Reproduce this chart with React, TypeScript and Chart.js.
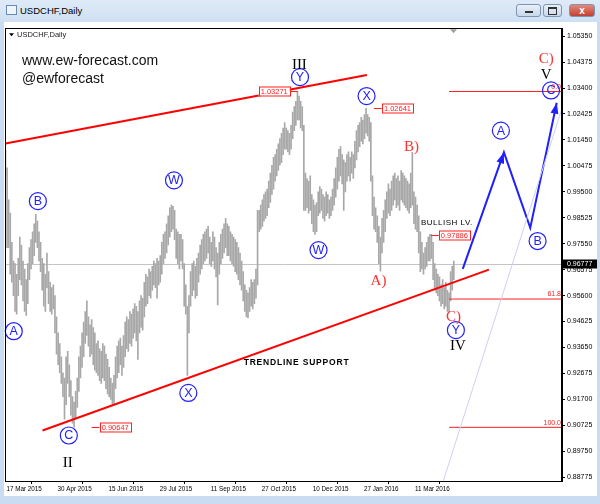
import React, { useEffect, useRef } from 'react';
import { Chart, registerables } from 'chart.js';

Chart.register(...registerables);

// ---------- DATA ----------
const highs = [
  1.0105, 1.0040, 0.9920, 0.9870, 0.9760, 0.9690, 0.9680, 0.9640, 0.9700, 0.9780,
  0.9750, 0.9690, 0.9660, 0.9620, 0.9680, 0.9740, 0.9770, 0.9800, 0.9830, 0.9865,
  0.9840, 0.9800, 0.9760, 0.9700, 0.9680, 0.9640, 0.9720, 0.9650, 0.9610, 0.9590,
  0.9600, 0.9560, 0.9480, 0.9420, 0.9380, 0.9330, 0.9270, 0.9250, 0.9330, 0.9350,
  0.9300, 0.9240, 0.9180, 0.9160, 0.9200, 0.9250, 0.9330, 0.9370, 0.9420, 0.9460,
  0.9500, 0.9540, 0.9480, 0.9450, 0.9470, 0.9440, 0.9420, 0.9380, 0.9390, 0.9360,
  0.9350, 0.9380, 0.9370, 0.9340, 0.9320, 0.9290, 0.9250, 0.9230, 0.9260, 0.9330,
  0.9370, 0.9390, 0.9400, 0.9370, 0.9410, 0.9460, 0.9480, 0.9470, 0.9500, 0.9490,
  0.9510, 0.9530, 0.9520, 0.9500, 0.9540, 0.9560, 0.9550, 0.9610, 0.9640, 0.9630,
  0.9660, 0.9650, 0.9670, 0.9690, 0.9680, 0.9700, 0.9690, 0.9710, 0.9760, 0.9790,
  0.9800, 0.9830, 0.9860, 0.9890, 0.9900, 0.9895, 0.9880, 0.9810, 0.9800, 0.9790,
  0.9790, 0.9770, 0.9680, 0.9600, 0.9520, 0.9560, 0.9650, 0.9680, 0.9690, 0.9670,
  0.9700, 0.9720, 0.9750, 0.9770, 0.9790, 0.9800, 0.9810, 0.9820, 0.9780, 0.9760,
  0.9800, 0.9780, 0.9740, 0.9720, 0.9760, 0.9790, 0.9810, 0.9830, 0.9850, 0.9830,
  0.9820, 0.9800, 0.9790, 0.9780, 0.9770, 0.9760, 0.9740, 0.9720, 0.9690, 0.9650,
  0.9600, 0.9580, 0.9570, 0.9590, 0.9620, 0.9610, 0.9620, 0.9660, 0.9880, 0.9880,
  0.9900, 0.9920, 0.9940, 0.9950, 0.9960, 0.9990, 1.0020, 1.0050, 1.0080, 1.0090,
  1.0110, 1.0130, 1.0150, 1.0170, 1.0190, 1.0210, 1.0190, 1.0180, 1.0170, 1.0200,
  1.0250, 1.0270, 1.0290, 1.0327, 1.0310, 1.0290, 1.0270, 1.0200, 1.0020, 1.0000,
  0.9990, 1.0010, 0.9940, 0.9920, 0.9900, 0.9910, 0.9950, 0.9970, 0.9960, 0.9940,
  0.9930, 0.9950, 0.9940, 0.9920, 0.9930, 0.9960, 1.0000, 1.0040, 1.0080, 1.0110,
  1.0120, 1.0090, 1.0070, 1.0060, 1.0090, 1.0100, 1.0080, 1.0100, 1.0090, 1.0140,
  1.0180, 1.0200, 1.0210, 1.0230, 1.0220, 1.0240, 1.0264, 1.0240, 1.0230, 1.0210,
  1.0010, 0.9930, 0.9890, 0.9860, 0.9820, 0.9780, 0.9850, 0.9880, 0.9920, 0.9950,
  0.9980, 0.9960, 0.9990, 1.0010, 1.0020, 1.0000, 1.0010, 0.9990, 1.0030, 1.0020,
  1.0010, 1.0000, 0.9990, 0.9980, 1.0020, 1.0098, 0.9950, 0.9930, 0.9900, 0.9860,
  0.9800, 0.9760, 0.9720, 0.9740, 0.9760, 0.9780, 0.9790, 0.9789, 0.9760, 0.9680,
  0.9660, 0.9640, 0.9630, 0.9600, 0.9620, 0.9590, 0.9610, 0.9580, 0.9570, 0.9650,
  0.9670, 0.9690,
];

const lows = [
  1.0010, 0.9740, 0.9740, 0.9640, 0.9610, 0.9560, 0.9500, 0.9490, 0.9560, 0.9620,
  0.9600, 0.9540, 0.9500, 0.9485, 0.9530, 0.9620, 0.9660, 0.9680, 0.9710, 0.9760,
  0.9740, 0.9690, 0.9650, 0.9580, 0.9520, 0.9500, 0.9590, 0.9530, 0.9500, 0.9490,
  0.9510, 0.9420, 0.9340, 0.9300, 0.9270, 0.9230, 0.9180, 0.9095, 0.9150, 0.9230,
  0.9180, 0.9110, 0.9080, 0.9065, 0.9100, 0.9140, 0.9200, 0.9250, 0.9290, 0.9330,
  0.9380, 0.9410, 0.9370, 0.9330, 0.9340, 0.9300, 0.9280, 0.9270, 0.9260, 0.9240,
  0.9230, 0.9250, 0.9240, 0.9210, 0.9190, 0.9180, 0.9170, 0.9152, 0.9155, 0.9210,
  0.9250, 0.9270, 0.9300, 0.9260, 0.9290, 0.9330, 0.9360, 0.9350, 0.9380, 0.9370,
  0.9400, 0.9420, 0.9390, 0.9320, 0.9420, 0.9440, 0.9430, 0.9480, 0.9520, 0.9530,
  0.9560, 0.9550, 0.9580, 0.9600, 0.9590, 0.9550, 0.9600, 0.9610, 0.9640, 0.9680,
  0.9700, 0.9720, 0.9750, 0.9780, 0.9800, 0.9810, 0.9770, 0.9700, 0.9680, 0.9660,
  0.9690, 0.9660, 0.9520, 0.9490, 0.9260, 0.9420, 0.9520, 0.9560, 0.9580, 0.9550,
  0.9560, 0.9610, 0.9640, 0.9660, 0.9680, 0.9690, 0.9700, 0.9720, 0.9680, 0.9670,
  0.9690, 0.9660, 0.9630, 0.9525, 0.9640, 0.9680, 0.9700, 0.9720, 0.9740, 0.9710,
  0.9710, 0.9690, 0.9680, 0.9670, 0.9650, 0.9640, 0.9620, 0.9600, 0.9580, 0.9540,
  0.9500, 0.9480, 0.9476, 0.9500, 0.9520, 0.9510, 0.9530, 0.9550, 0.9600, 0.9800,
  0.9810, 0.9820, 0.9840, 0.9850, 0.9860, 0.9890, 0.9910, 0.9940, 0.9960, 0.9990,
  1.0010, 1.0030, 1.0050, 1.0060, 1.0090, 1.0110, 1.0110, 1.0100, 1.0090, 1.0110,
  1.0150, 1.0180, 1.0200, 1.0220, 1.0220, 1.0190, 1.0180, 0.9880, 0.9880, 0.9890,
  0.9870, 0.9880, 0.9830, 0.9800, 0.9790, 0.9800, 0.9860, 0.9870, 0.9880, 0.9850,
  0.9840, 0.9860, 0.9870, 0.9850, 0.9860, 0.9880, 0.9900, 0.9930, 0.9960, 0.9990,
  1.0010, 0.9980, 0.9880, 0.9950, 0.9990, 1.0010, 0.9990, 1.0020, 1.0000, 1.0040,
  1.0070, 1.0100, 1.0120, 1.0140, 1.0130, 1.0150, 1.0170, 1.0160, 1.0140, 0.9990,
  0.9860, 0.9810, 0.9800, 0.9760, 0.9680, 0.9652, 0.9720, 0.9760, 0.9800, 0.9850,
  0.9870, 0.9860, 0.9880, 0.9900, 0.9920, 0.9890, 0.9900, 0.9880, 0.9920, 0.9910,
  0.9900, 0.9890, 0.9880, 0.9870, 0.9890, 0.9900, 0.9830, 0.9810, 0.9800, 0.9720,
  0.9650, 0.9660, 0.9640, 0.9660, 0.9670, 0.9690, 0.9690, 0.9700, 0.9620, 0.9580,
  0.9570, 0.9560, 0.9540, 0.9520, 0.9530, 0.9510, 0.9520, 0.9500, 0.9499, 0.9540,
  0.9580, 0.9620,
];

const yTickValues = [
  1.0535, 1.04375, 1.034, 1.02425, 1.0145, 1.00475, 0.995, 0.98525, 0.9755,
  0.96575, 0.956, 0.94625, 0.9365, 0.92675, 0.917, 0.90725, 0.8975, 0.88775,
];
const xTickIndex = [0, 32, 64, 96, 128, 160, 192, 224, 256];
const xTickLabels = [
  '17 Mar 2015', '30 Apr 2015', '15 Jun 2015', '29 Jul 2015', '11 Sep 2015',
  '27 Oct 2015', '10 Dec 2015', '27 Jan 2016', '11 Mar 2016',
];
const lastPrice = 0.96777;

const upperTrend = [{ x: 0, y: 1.01318 }, { x: 226.5, y: 1.03894 }];
const lowerTrend = [{ x: 23.2, y: 0.9053 }, { x: 303, y: 0.96577 }];
const forecastPath = [
  { x: 286.6, y: 0.96603 }, { x: 312.4, y: 1.00982 },
  { x: 328.9, y: 0.98145 }, { x: 345.5, y: 1.02849 },
];
const fibStart = 278;
const fibLevels = [1.03271, 0.954694, 0.90647];
const fibNames = ['0.0', '61.8', '100.0'];
const channelLine = [{ x: 274.5, y: 0.8865 }, { x: 360, y: 1.0475 }];

const circleLabels = [
  { t: 'A', x: 5.2, y: 0.9426 }, { t: 'B', x: 20.3, y: 0.9915 },
  { t: 'C', x: 39.7, y: 0.9034 }, { t: 'W', x: 105.6, y: 0.9993 },
  { t: 'X', x: 114.6, y: 0.9194 }, { t: 'Y', x: 184.6, y: 1.0381 },
  { t: 'W', x: 196.2, y: 0.9731 }, { t: 'X', x: 226.3, y: 1.031 },
  { t: 'Y', x: 282.3, y: 0.943 }, { t: 'A', x: 310.5, y: 1.018 },
  { t: 'B', x: 333.5, y: 0.9765 }, { t: 'C', x: 341.9, y: 1.0331 },
];
const romanLabels = [
  { t: 'III', x: 184.2, y: 1.0428 }, { t: 'II', x: 39.1, y: 0.8932 },
  { t: 'IV', x: 283.6, y: 0.937 }, { t: 'V', x: 338.8, y: 1.0389 },
];
const redLabels = [
  { t: 'A)', x: 233.8, y: 0.9613 }, { t: 'B)', x: 254.5, y: 1.0117 },
  { t: 'C)', x: 280.8, y: 0.948 }, { t: 'C)', x: 339, y: 1.0449 },
];
const priceTags = [
  { t: '1.03271', x: 183.2, y: 1.03271, dir: -1 },
  { t: '1.02641', x: 230.9, y: 1.02641, dir: 1 },
  { t: '0.97886', x: 266.6, y: 0.97886, dir: 1 },
  { t: '0.90647', x: 54, y: 0.90647, dir: 1 },
];
const noteLabels = [
  { t: 'TRENDLINE SUPPORT', x: 149.3, y: 0.9307, bold: true },
  { t: 'BULLISH LV.', x: 260.4, y: 0.9833, bold: false },
];

// ---------- STYLE ----------
const BLUE = '#2020ff';
const RED = '#ff2020';
const SANS = '"Liberation Sans", Arial, sans-serif';
const SERIF = '"Liberation Serif", "Times New Roman", serif';

const overlay = {
  id: 'overlay',
  beforeDatasetsDraw(chart: any) {
    const { ctx, chartArea: a, scales } = chart;
    const yy = Math.round(scales.y.getPixelForValue(lastPrice)) + 0.5;
    ctx.save();
    ctx.strokeStyle = '#c4c4c4';
    ctx.lineWidth = 1;
    ctx.beginPath();
    ctx.moveTo(a.left, yy);
    ctx.lineTo(a.right, yy);
    ctx.stroke();
    ctx.restore();
  },
  afterDatasetsDraw(chart: any) {
    const { ctx, chartArea: a, scales } = chart;
    const px = (v: number) => scales.x.getPixelForValue(v);
    const py = (v: number) => scales.y.getPixelForValue(v);
    ctx.save();

    // arrowheads on forecast path
    const arrow = (p0: any, p1: any) => {
      const x0 = px(p0.x), y0 = py(p0.y), x1 = px(p1.x), y1 = py(p1.y);
      const ang = Math.atan2(y1 - y0, x1 - x0);
      const L = 11, W = 4;
      ctx.fillStyle = BLUE;
      ctx.beginPath();
      ctx.moveTo(x1, y1);
      ctx.lineTo(x1 - L * Math.cos(ang) + W * Math.sin(ang), y1 - L * Math.sin(ang) - W * Math.cos(ang));
      ctx.lineTo(x1 - L * Math.cos(ang) - W * Math.sin(ang), y1 - L * Math.sin(ang) + W * Math.cos(ang));
      ctx.closePath();
      ctx.fill();
    };
    arrow(forecastPath[0], forecastPath[1]);
    arrow(forecastPath[2], forecastPath[3]);

    // fib labels
    ctx.font = `7px ${SANS}`;
    ctx.fillStyle = RED;
    ctx.textAlign = 'right';
    ctx.textBaseline = 'bottom';
    fibLevels.forEach((v, k) => {
      ctx.fillText(fibNames[k], a.right - 1, py(v) - 1);
    });

    // price tags
    ctx.font = `7.5px ${SANS}`;
    ctx.textBaseline = 'middle';
    priceTags.forEach((p) => {
      const x0 = px(p.x), y0 = Math.round(py(p.y)) + 0.5;
      const w = ctx.measureText(p.t).width + 4, h = 9;
      const x1 = x0 + p.dir * 8;
      const bx = p.dir > 0 ? x1 : x1 - w;
      ctx.strokeStyle = RED;
      ctx.lineWidth = 1;
      ctx.beginPath();
      ctx.moveTo(x0, y0);
      ctx.lineTo(x1, y0);
      ctx.stroke();
      ctx.fillStyle = '#fff';
      ctx.fillRect(bx, y0 - h / 2, w, h);
      ctx.strokeRect(Math.round(bx) + 0.5, y0 - h / 2, Math.round(w), h);
      ctx.fillStyle = RED;
      ctx.textAlign = 'left';
      ctx.fillText(p.t, bx + 2, y0 + 0.5);
    });

    // note labels
    ctx.fillStyle = '#000';
    ctx.textAlign = 'left';
    noteLabels.forEach((n) => {
      ctx.font = n.bold ? `bold 8.5px ${SANS}` : `8px ${SANS}`;
      (ctx as any).letterSpacing = n.bold ? '0.8px' : '0.5px';
      ctx.fillText(n.t, px(n.x), py(n.y));
    });
    (ctx as any).letterSpacing = '0px';

    // circled wave labels
    ctx.textAlign = 'center';
    ctx.textBaseline = 'middle';
    circleLabels.forEach((c) => {
      const cx = px(c.x), cy = py(c.y);
      ctx.strokeStyle = BLUE;
      ctx.lineWidth = 1.2;
      ctx.beginPath();
      ctx.arc(cx, cy, 8.5, 0, Math.PI * 2);
      ctx.stroke();
      ctx.fillStyle = BLUE;
      ctx.font = `12.5px ${SANS}`;
      ctx.fillText(c.t, cx, cy + 0.5);
    });

    // roman numerals
    ctx.font = `15px ${SERIF}`;
    ctx.fillStyle = '#000';
    romanLabels.forEach((r) => ctx.fillText(r.t, px(r.x), py(r.y)));

    // red wave labels
    ctx.font = `15px ${SERIF}`;
    ctx.fillStyle = '#ff3030';
    redLabels.forEach((r) => ctx.fillText(r.t, px(r.x), py(r.y)));

    ctx.restore();
  },
  afterDraw(chart: any) {
    const { ctx, chartArea: a, scales } = chart;
    ctx.save();
    // frame
    ctx.strokeStyle = '#000';
    ctx.lineWidth = 1;
    ctx.strokeRect(Math.round(a.left) + 0.5, Math.round(a.top) + 0.5,
      Math.round(a.right - a.left) - 1, Math.round(a.bottom - a.top));

    // top-left texts
    ctx.fillStyle = '#000';
    ctx.beginPath();
    ctx.moveTo(a.left + 4, a.top + 5);
    ctx.lineTo(a.left + 9, a.top + 5);
    ctx.lineTo(a.left + 6.5, a.top + 8);
    ctx.closePath();
    ctx.fill();
    ctx.font = `7.5px ${SANS}`;
    ctx.textAlign = 'left';
    ctx.textBaseline = 'middle';
    ctx.fillStyle = '#222';
    ctx.fillText('USDCHF,Daily', a.left + 12, a.top + 6.5);
    ctx.font = `14px ${SANS}`;
    ctx.fillStyle = '#111';
    ctx.fillText('www.ew-forecast.com', a.left + 17, a.top + 33);
    ctx.fillText('@ewforecast', a.left + 17, a.top + 51);

    // shift marker
    ctx.fillStyle = '#a0a0a0';
    ctx.beginPath();
    ctx.moveTo(a.left + 445, a.top + 1);
    ctx.lineTo(a.left + 452, a.top + 1);
    ctx.lineTo(a.left + 448.5, a.top + 5);
    ctx.closePath();
    ctx.fill();

    // last price box
    const yy = Math.round(scales.y.getPixelForValue(lastPrice));
    ctx.fillStyle = '#000';
    ctx.fillRect(a.right + 1, yy - 4.5, 36, 9);
    ctx.fillStyle = '#fff';
    ctx.font = `7px ${SANS}`;
    ctx.fillText(lastPrice.toFixed(5), a.right + 5, yy + 0.5);
    ctx.restore();
  },
};

export default function App() {
  const ref = useRef<HTMLCanvasElement>(null);

  useEffect(() => {
    const bars = highs.map((h, i) => ({ x: i, y: [lows[i], h] }));
    const line = (data: any[], color: string, width: number) => ({
      type: 'line' as const,
      data,
      borderColor: color,
      borderWidth: width,
      pointRadius: 0,
      fill: false,
      tension: 0,
      order: 1,
    });
    const chart = new Chart(ref.current as HTMLCanvasElement, {
      type: 'bar',
      data: {
        datasets: [
          {
            type: 'bar',
            data: bars as any,
            backgroundColor: '#a8a8a8',
            barThickness: 1,
            borderWidth: 0,
            order: 10,
          } as any,
          line(channelLine, '#cfcff5', 1),
          ...fibLevels.map((v) => line([{ x: fibStart, y: v }, { x: 360, y: v }], RED, 1)),
          line(upperTrend, '#ff0000', 2),
          line(lowerTrend, '#ff0000', 2),
          line(forecastPath, BLUE, 2),
        ],
      },
      options: {
        responsive: false,
        animation: false,
        events: [],
        layout: { padding: { left: 1, top: 3, right: 0, bottom: 0 } },
        plugins: { legend: { display: false }, tooltip: { enabled: false } },
        scales: {
          x: {
            type: 'linear',
            min: -0.3,
            max: 348.8,
            offset: false,
            afterFit: (s: any) => { s.height = 15; },
            afterBuildTicks: (s: any) => { s.ticks = xTickIndex.map((v) => ({ value: v })); },
            grid: { drawOnChartArea: false, drawTicks: true, tickLength: 3, color: '#000' },
            border: { display: true, color: '#000' },
            ticks: {
              autoSkip: false,
              maxRotation: 0,
              align: 'start',
              padding: 1,
              labelOffset: 1,
              color: '#000',
              font: { family: SANS, size: 6.3 },
              callback: (v: any) => xTickLabels[xTickIndex.indexOf(Number(v))] ?? '',
            },
          },
          y: {
            type: 'linear',
            position: 'right',
            min: 0.8863,
            max: 1.0565,
            afterFit: (s: any) => { s.width = 35; },
            afterBuildTicks: (s: any) => { s.ticks = yTickValues.map((v) => ({ value: v })); },
            grid: { drawOnChartArea: false, drawTicks: true, tickLength: 3, color: '#000' },
            border: { display: true, color: '#000' },
            ticks: {
              padding: 2,
              color: '#000',
              font: { family: SANS, size: 7 },
              callback: (v: any) => Number(v).toFixed(5),
            },
          },
        },
      } as any,
      plugins: [overlay],
    });
    return () => chart.destroy();
  }, []);

  const btn = (left: number, width: number, bg: string, child: React.ReactNode) => (
    <div style={{
      position: 'absolute', left, top: 4, width, height: 13, borderRadius: 3,
      background: bg, border: '1px solid #7d94b3', boxSizing: 'border-box',
      display: 'flex', alignItems: 'center', justifyContent: 'center',
    }}>{child}</div>
  );

  return (
    <div style={{
      position: 'fixed', left: 0, top: 0, width: 600, height: 504, overflow: 'hidden',
      background: '#c9dcf1',
    }}>
      <div style={{
        position: 'absolute', left: 0, top: 0, width: 600, height: 22,
        background: 'linear-gradient(#dfeaf7, #cfe0f3)',
      }}>
        <div style={{
          position: 'absolute', left: 6, top: 5, width: 11, height: 10,
          border: '1px solid #6c8bb6', background: '#eef4fb', boxSizing: 'border-box',
        }} />
        <div style={{
          position: 'absolute', left: 20, top: 4, fontFamily: SANS, fontSize: 9.5,
          color: '#000', lineHeight: '14px',
        }}>USDCHF,Daily</div>
        {btn(516, 25, 'linear-gradient(#e9f0f8, #c8d8eb)',
          <div style={{ width: 8, height: 2, background: '#333', marginTop: 3 }} />)}
        {btn(543, 19, 'linear-gradient(#e9f0f8, #c8d8eb)',
          <div style={{ width: 7, height: 5, border: '1px solid #333', borderTopWidth: 2 }} />)}
        {btn(569, 26, 'linear-gradient(#e5897c, #c2402f)',
          <div style={{ color: '#fff', fontFamily: SANS, fontWeight: 'bold', fontSize: 10, lineHeight: '10px' }}>x</div>)}
      </div>
      <div style={{
        position: 'absolute', left: 4, top: 22, width: 593, height: 474, background: '#fff',
      }}>
        <canvas ref={ref} width={593} height={474} style={{ width: 593, height: 474, display: 'block' }} />
      </div>
    </div>
  );
}
